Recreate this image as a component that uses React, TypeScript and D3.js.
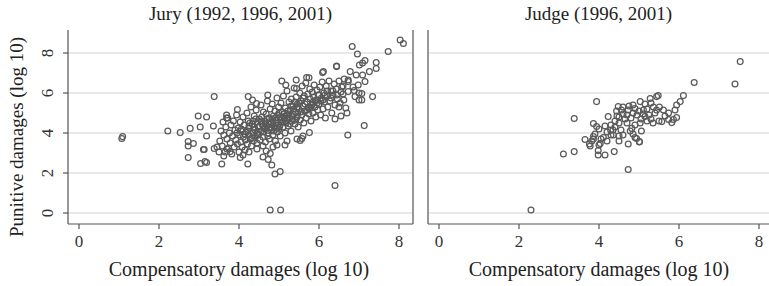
import React from "react";
import { scaleLinear } from "d3";

type Pt = [number, number];

// Jury awards: [compensatory log10, punitive log10]
const juryPoints: Pt[] = [
  [1.07, 3.73], [1.09, 3.82], [2.22, 4.1], [2.53, 4.02], [2.78, 4.23], [3.03, 4.3], [2.98, 4.85], [3.19, 4.8],
  [3.36, 4.35], [3.38, 5.82], [2.73, 3.57], [2.86, 3.48], [2.73, 3.35], [3.13, 3.18], [2.73, 2.77], [3.04, 2.48],
  [3.19, 2.53], [3.19, 3.85], [3.69, 4.9], [3.69, 4.75], [3.96, 5.18], [3.11, 3.18], [3.15, 2.57], [3.57, 2.45],
  [4.22, 2.45], [4.03, 2.78], [3.78, 3.07], [3.38, 3.23], [4.6, 2.8], [4.73, 2.68], [4.82, 2.4], [4.78, 2.98],
  [4.9, 1.95], [5.03, 2.07], [4.78, 0.15], [5.04, 0.15], [6.4, 1.38], [5.57, 3.73], [5.53, 3.63], [5.76, 4.02],
  [5.15, 3.4], [6.72, 3.9], [7.13, 4.37], [3.62, 2.85], [3.45, 3.3], [3.5, 3.05], [3.7, 3.2], [4.1, 2.9],
  [4.25, 3.05], [4.45, 3.2], [4.6, 3.35], [4.68, 3.1], [4.85, 3.3], [4.95, 3.4], [5.2, 3.6], [5.45, 3.7],
  [5.6, 3.85],
  [3.52, 3.6], [3.55, 4.1], [3.58, 3.35], [3.6, 4.55], [3.62, 3.9], [3.65, 3.05], [3.67, 4.3], [3.7, 3.7],
  [3.72, 4.75], [3.74, 3.25], [3.76, 4.0], [3.78, 3.5], [3.8, 4.4], [3.82, 2.95], [3.84, 3.85], [3.86, 4.6],
  [3.88, 3.3], [3.9, 4.15], [3.92, 3.65], [3.94, 4.9], [3.96, 3.45], [3.98, 4.25],
  [4.0, 3.05], [4.02, 3.9], [4.03, 4.55], [4.05, 3.55], [4.06, 4.2], [4.08, 3.3], [4.1, 4.8], [4.11, 3.8],
  [4.13, 4.4], [4.15, 3.15], [4.16, 3.65], [4.18, 4.05], [4.2, 5.0], [4.21, 3.45], [4.23, 4.6], [4.25, 3.9],
  [4.26, 4.25], [4.28, 3.7], [4.3, 5.3], [4.31, 3.35], [4.33, 4.45], [4.35, 4.0], [4.36, 3.6], [4.38, 4.85],
  [4.4, 4.15], [4.41, 3.85], [4.43, 5.15], [4.45, 3.5], [4.46, 4.55], [4.48, 4.3],
  [4.5, 3.95], [4.51, 4.7], [4.53, 3.65], [4.55, 5.4], [4.56, 4.1], [4.58, 4.45], [4.6, 3.8], [4.61, 5.05],
  [4.63, 4.25], [4.65, 4.6], [4.66, 3.55], [4.68, 4.95], [4.7, 4.35], [4.71, 5.6], [4.73, 4.0], [4.75, 4.75],
  [4.76, 3.7], [4.78, 5.2], [4.8, 4.5], [4.81, 4.15], [4.83, 5.45], [4.85, 3.9], [4.86, 4.85], [4.88, 4.3],
  [4.9, 5.1], [4.91, 3.6], [4.93, 4.65], [4.95, 5.75], [4.96, 4.05], [4.98, 4.4], [4.99, 5.3],
  [5.0, 4.2], [5.02, 4.8], [5.03, 3.85], [5.05, 5.5], [5.06, 4.55], [5.08, 5.05], [5.1, 4.3], [5.11, 5.85],
  [5.13, 4.7], [5.15, 4.0], [5.16, 5.25], [5.18, 4.5], [5.2, 6.1], [5.21, 4.9], [5.23, 4.35], [5.25, 5.55],
  [5.26, 4.75], [5.28, 5.15], [5.3, 4.1], [5.31, 5.7], [5.33, 4.6], [5.35, 5.35], [5.36, 4.95], [5.38, 6.25],
  [5.4, 4.45], [5.41, 5.05], [5.43, 5.8], [5.45, 4.8], [5.46, 5.45], [5.48, 4.3],
  [5.5, 5.2], [5.52, 6.0], [5.53, 4.65], [5.55, 5.6], [5.57, 4.9], [5.58, 6.35], [5.6, 5.35], [5.62, 4.5],
  [5.63, 5.85], [5.65, 5.1], [5.67, 6.5], [5.68, 4.75], [5.7, 5.55], [5.72, 5.95], [5.73, 5.25], [5.75, 4.95],
  [5.77, 6.2], [5.78, 5.7], [5.8, 4.6], [5.82, 5.4], [5.83, 6.05], [5.85, 5.0], [5.87, 5.8], [5.88, 6.4],
  [5.9, 5.3], [5.92, 4.8], [5.93, 5.65], [5.95, 6.15], [5.97, 5.15], [5.98, 5.9],
  [6.0, 5.45], [6.02, 6.3], [6.04, 4.9], [6.06, 5.75], [6.08, 6.55], [6.1, 5.2], [6.12, 6.0], [6.14, 5.55],
  [6.16, 4.75], [6.18, 6.35], [6.2, 5.85], [6.22, 5.3], [6.25, 6.6], [6.27, 5.6], [6.3, 6.1], [6.32, 5.0],
  [6.35, 5.9], [6.38, 6.45], [6.4, 5.4], [6.43, 6.2], [6.46, 5.7], [6.5, 6.6], [6.53, 5.5], [6.57, 6.3],
  [6.6, 5.95], [6.63, 6.7], [6.67, 5.25],
  [4.22, 4.1], [4.27, 4.5], [4.32, 3.75], [4.37, 4.3], [4.42, 4.7], [4.47, 3.9], [4.52, 4.35], [4.57, 4.8],
  [4.62, 4.05], [4.67, 4.5], [4.72, 3.85], [4.77, 4.3], [4.82, 4.7], [4.87, 4.1], [4.92, 4.5], [4.97, 4.9],
  [5.02, 4.35], [5.07, 4.75], [5.12, 4.95], [5.17, 4.6], [5.22, 5.1], [5.27, 4.45], [5.32, 4.85], [5.37, 5.2],
  [5.42, 4.65], [5.47, 5.0], [4.25, 4.35], [4.35, 4.6], [4.45, 4.0], [4.55, 4.6], [4.65, 4.2], [4.75, 4.45],
  [4.85, 4.6], [4.95, 4.25], [5.05, 4.65], [5.15, 4.85], [5.25, 4.95], [5.35, 4.7], [5.45, 5.3], [5.55, 5.05],
  [5.65, 5.45], [5.75, 5.3], [5.85, 5.55], [5.95, 5.5], [6.05, 5.6], [6.15, 5.9], [6.3, 5.75], [4.15, 3.95],
  [4.05, 4.1], [3.95, 4.0], [4.6, 4.35], [4.7, 4.7], [4.8, 4.25], [4.9, 4.75], [5.0, 5.0], [5.1, 4.55],
  [5.2, 4.75], [5.3, 5.35], [5.4, 5.55], [5.5, 5.5], [5.6, 5.75], [5.7, 5.15], [5.8, 5.25], [5.9, 5.6],
  [6.0, 5.9], [6.1, 5.65], [6.2, 6.1], [6.35, 6.1], [6.45, 5.9], [6.55, 6.05],
  [4.23, 5.82], [4.34, 5.65], [4.44, 5.48], [4.72, 5.9], [5.07, 6.6], [5.17, 6.4], [5.43, 6.65], [5.44, 6.23],
  [5.69, 6.77], [5.75, 6.76], [6.11, 7.07], [6.44, 7.32],
  [7.34, 5.82], [6.88, 6.12], [7.0, 6.0], [7.0, 5.65], [6.73, 6.57], [6.78, 7.07], [6.83, 8.32], [6.96, 7.95],
  [7.15, 7.62], [7.09, 7.5], [7.01, 7.4], [7.43, 7.53], [7.43, 7.23], [7.26, 7.07], [6.44, 7.35], [7.09, 6.9],
  [6.93, 6.9], [7.15, 6.57], [6.98, 6.4], [6.73, 6.65], [6.73, 6.07], [6.9, 5.82], [7.07, 5.98], [7.07, 5.65],
  [7.73, 8.07], [8.03, 8.65], [8.11, 8.48], [6.09, 7.02], [6.6, 6.35], [6.85, 6.3], [6.5, 5.3], [6.62, 5.65],
  [6.7, 5.0], [6.55, 4.85], [6.4, 4.7],
];

// Judge awards
const judgePoints: Pt[] = [
  [2.3, 0.15], [3.11, 2.95], [3.38, 3.07], [3.38, 4.73], [3.94, 5.57], [3.65, 3.68], [3.76, 3.45], [3.86, 3.7],
  [4.03, 3.48], [3.98, 3.12], [3.98, 2.9], [4.15, 2.9], [4.38, 3.07], [4.11, 3.78], [4.3, 3.9], [4.73, 3.45],
  [4.73, 2.18], [4.9, 3.78], [5.01, 3.55], [5.06, 4.1], [3.86, 4.48], [3.94, 4.33], [4.0, 4.2], [3.86, 3.82],
  [3.82, 3.6], [3.78, 3.35], [4.0, 3.4], [4.29, 4.15], [4.36, 3.9], [4.48, 5.32], [4.44, 5.1], [4.23, 4.82],
  [4.56, 5.15], [4.73, 5.15], [4.9, 5.23], [5.03, 5.57], [5.11, 5.15], [5.15, 4.82], [5.03, 4.5], [4.82, 4.23],
  [4.78, 4.1], [4.94, 3.73], [5.01, 3.57], [5.28, 5.73], [5.44, 5.82], [5.44, 5.15], [7.53, 7.57], [6.38, 6.53],
  [7.4, 6.45], [6.11, 5.87], [6.03, 5.57], [5.94, 5.4], [5.9, 5.15], [5.94, 4.78], [5.86, 4.68], [5.82, 4.52],
  [5.74, 4.68], [5.57, 4.57], [5.61, 5.15], [5.74, 5.0], [5.48, 5.87], [5.51, 5.3], [5.36, 5.3], [5.4, 5.0],
  [4.3, 4.4], [4.4, 4.6], [4.5, 4.8], [4.6, 4.95], [4.65, 4.7], [4.7, 4.9], [4.8, 4.75], [4.85, 5.0],
  [4.95, 4.9], [5.0, 5.1], [5.1, 4.95], [5.2, 5.2], [5.25, 4.9], [5.3, 5.5], [4.6, 5.3], [4.75, 5.35],
  [4.85, 5.4], [4.4, 4.3], [4.5, 4.5], [4.55, 4.15], [4.2, 4.05], [4.15, 4.35], [5.15, 5.45], [5.2, 4.6],
  [5.3, 4.7], [5.35, 4.5], [5.5, 4.6], [5.65, 4.85], [4.6, 3.9], [4.85, 3.95], [4.9, 4.4], [4.7, 4.5],
  [5.05, 4.7], [4.45, 4.85], [4.35, 4.15], [3.9, 3.95], [4.05, 3.7], [4.2, 3.6], [4.5, 3.6], [4.5, 3.85],
];

const xTicks = [0, 2, 4, 6, 8];
const yTicks = [0, 2, 4, 6, 8];
const panelTitles = ["Jury (1992, 1996, 2001)", "Judge (1996, 2001)"];
const xTitle = "Compensatory damages (log 10)";
const yTitle = "Punitive damages (log 10)";

const FONT = "'Liberation Serif', 'Times New Roman', serif";
const TOP = 30;
const BOTTOM = 224;

const yScale = scaleLinear().domain([-0.55, 9.15]).range([BOTTOM, TOP]);

function Panel({ points, title, left, right, xMax, showY, frame }: {
  points: Pt[]; title: string; left: number; right: number; xMax: number; showY: boolean; frame: boolean;
}) {
  const x = scaleLinear().domain([-0.275, xMax]).range([left, right]);
  return (
    <g>
      <text x={(left + right) / 2} y={20} textAnchor="middle" fontFamily={FONT} fontSize={19} fill="#222">
        {title}
      </text>
      {yTicks.map((t) => (
        <line key={`g${t}`} x1={left} x2={right} y1={yScale(t)} y2={yScale(t)} stroke="#e2e2e2" strokeWidth={1.4} />
      ))}
      {points.map((p, i) => (
        <circle key={i} cx={x(p[0])} cy={yScale(p[1])} r={2.9} fill="none" stroke="#5a5a5a" strokeWidth={1.25} />
      ))}
      <line x1={left} x2={left} y1={TOP} y2={BOTTOM} stroke="#555" strokeWidth={1.2} />
      <line x1={left} x2={right} y1={BOTTOM} y2={BOTTOM} stroke="#555" strokeWidth={1.2} />
      {frame && <line x1={right} x2={right} y1={TOP} y2={BOTTOM} stroke="#555" strokeWidth={1.2} />}
      {xTicks.map((t) => (
        <g key={`x${t}`}>
          <line x1={x(t)} x2={x(t)} y1={BOTTOM} y2={BOTTOM + 5} stroke="#555" strokeWidth={1.2} />
          <text x={x(t)} y={247} textAnchor="middle" fontFamily={FONT} fontSize={17} fill="#333">{t}</text>
        </g>
      ))}
      {showY && yTicks.map((t) => (
        <g key={`y${t}`}>
          <line x1={left - 5} x2={left} y1={yScale(t)} y2={yScale(t)} stroke="#555" strokeWidth={1.2} />
          <text transform={`translate(53, ${yScale(t)}) rotate(-90)`} textAnchor="middle" fontFamily={FONT} fontSize={17} fill="#333">{t}</text>
        </g>
      ))}
      <text x={x(4)} y={276} textAnchor="middle" fontFamily={FONT} fontSize={20} fill="#222">{xTitle}</text>
    </g>
  );
}

export default function App() {
  return (
    <svg width={769} height={286} style={{ position: "absolute", left: 0, top: 0, background: "#fff" }}>
      <rect width={769} height={286} fill="#fff" />
      <text transform={`translate(23, 137) rotate(-90)`} textAnchor="middle" fontFamily={FONT} fontSize={19} fill="#222">
        {yTitle}
      </text>
      <Panel points={juryPoints} title={panelTitles[0]} left={68} right={413} xMax={8.35} showY frame />
      <Panel points={judgePoints} title={panelTitles[1]} left={428} right={769} xMax={8.25} showY={false} frame={false} />
    </svg>
  );
}
